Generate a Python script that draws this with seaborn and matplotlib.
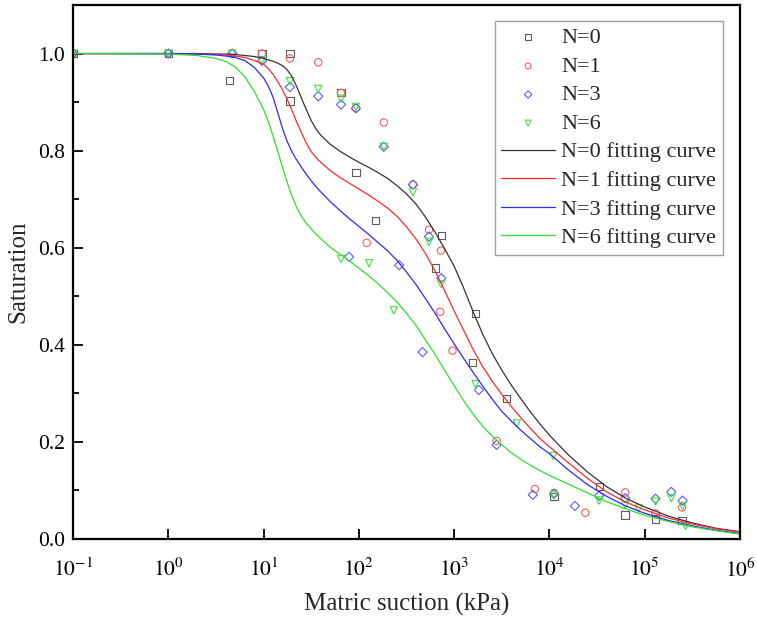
"""Soil-water characteristic curves after N freeze-thaw cycles."""

import matplotlib
matplotlib.use("Agg")
import matplotlib.pyplot as plt
import matplotlib.ticker as mticker
import numpy as np
import pandas as pd
import seaborn as sns

N0_X = [0.1, 1, 4.4, 9.6, 18.9, 18.9, 65, 93, 150, 634, 733, 1680, 1560, 3550,
        11200, 33300, 62400, 130000, 247000]
N0_Y = [1.0, 1.0, 0.945, 1.0, 1.0, 0.902, 0.92, 0.755, 0.656, 0.558, 0.625, 0.465,
        0.364, 0.289, 0.087, 0.108, 0.0495, 0.041, 0.0385]

N1_X = [0.1, 1, 4.7, 9.6, 18.9, 37.5, 65, 93, 183, 370, 121, 545, 727, 714, 963,
        2790, 7050, 11200, 23800, 62400, 130000, 247000]
N1_Y = [1.0, 1.0, 1.0, 1.0, 0.99, 0.982, 0.919, 0.888, 0.858, 0.730, 0.610, 0.637,
        0.594, 0.468, 0.388, 0.202, 0.103, 0.095, 0.054, 0.096, 0.053, 0.065]

N3_X = [0.1, 1, 4.7, 9.6, 18.9, 37.5, 65, 93, 183, 370, 79, 265, 545, 733, 467,
        1820, 2790, 6700, 11200, 18500, 33300, 62400, 130000, 190000, 250000]
N3_Y = [1.0, 1.0, 1.0, 0.985, 0.931, 0.912, 0.895, 0.887, 0.808, 0.730, 0.581,
        0.564, 0.623, 0.537, 0.385, 0.307, 0.194, 0.091, 0.093, 0.068, 0.089, 0.084,
        0.083, 0.097, 0.079]

N6_X = [0.1, 1, 4.7, 9.6, 18.9, 37.5, 65, 93, 183, 370, 65, 128, 233, 545, 733,
        1680, 4560, 10970, 11200, 33300, 62400, 86300, 130000, 190000, 250000, 268000]
N6_Y = [1.0, 1.0, 1.0, 0.985, 0.943, 0.927, 0.907, 0.890, 0.808, 0.714, 0.577,
        0.568, 0.471, 0.612, 0.525, 0.319, 0.238, 0.171, 0.090, 0.079, 0.070, 0.0625,
        0.077, 0.084, 0.068, 0.027]

# fitting curves at these log10(suction) positions
FIT_LOGX = [-1, 0, 0.3, 0.5, 0.6, 0.7, 0.8, 0.9, 1.0, 1.05, 1.1, 1.15, 1.2, 1.25,
            1.3, 1.35, 1.4, 1.45, 1.5, 1.55, 1.6, 1.7, 1.8, 1.9, 2.0, 2.1, 2.2, 2.3,
            2.4, 2.5, 2.6, 2.7, 2.8, 2.9, 3.0, 3.1, 3.2, 3.3, 3.4, 3.5, 3.6, 3.7, 3.8,
            3.9, 4.0, 4.2, 4.4, 4.6, 4.8, 5.0, 5.25, 5.5, 5.75, 6.0]
FIT_N0 = [1.0, 1.0, 1.0, 0.999, 0.999, 0.998, 0.996, 0.994, 0.99, 0.987, 0.984,
          0.98, 0.975, 0.966, 0.952, 0.931, 0.907, 0.884, 0.862, 0.845, 0.832, 0.813,
          0.799, 0.787, 0.776, 0.766, 0.755, 0.743, 0.728, 0.711, 0.690, 0.663, 0.632,
          0.598, 0.562, 0.517, 0.468, 0.422, 0.382, 0.348, 0.317, 0.289, 0.262, 0.237,
          0.214, 0.173, 0.138, 0.108, 0.084, 0.066, 0.047, 0.033, 0.022, 0.015]
FIT_N1 = [1.0, 1.0, 0.999, 0.998, 0.997, 0.995, 0.992, 0.986, 0.978, 0.969, 0.957,
          0.942, 0.925, 0.905, 0.882, 0.858, 0.836, 0.815, 0.798, 0.786, 0.776, 0.759,
          0.745, 0.733, 0.721, 0.709, 0.696, 0.682, 0.665, 0.643, 0.618, 0.588, 0.552,
          0.512, 0.47, 0.43, 0.39, 0.355, 0.325, 0.298, 0.273, 0.25, 0.228, 0.207,
          0.19, 0.157, 0.125, 0.097, 0.076, 0.06, 0.043, 0.031, 0.021, 0.014]
FIT_N3 = [1.0, 1.0, 0.999, 0.997, 0.995, 0.992, 0.986, 0.972, 0.95, 0.933, 0.91,
          0.878, 0.845, 0.818, 0.797, 0.78, 0.765, 0.751, 0.738, 0.726, 0.715, 0.695,
          0.677, 0.66, 0.644, 0.628, 0.611, 0.594, 0.574, 0.55, 0.524, 0.495, 0.465,
          0.433, 0.402, 0.372, 0.343, 0.315, 0.288, 0.263, 0.243, 0.224, 0.207, 0.19,
          0.176, 0.142, 0.112, 0.088, 0.068, 0.053, 0.038, 0.027, 0.018, 0.011]
FIT_N6 = [1.0, 0.999, 0.996, 0.99, 0.984, 0.973, 0.953, 0.923, 0.885, 0.86, 0.83,
          0.798, 0.765, 0.733, 0.705, 0.682, 0.664, 0.65, 0.639, 0.628, 0.619, 0.601,
          0.587, 0.573, 0.558, 0.543, 0.526, 0.508, 0.488, 0.465, 0.44, 0.41, 0.38,
          0.348, 0.316, 0.285, 0.257, 0.232, 0.212, 0.194, 0.178, 0.164, 0.152, 0.141,
          0.131, 0.113, 0.095, 0.077, 0.062, 0.049, 0.036, 0.025, 0.017, 0.01]

LABELS = ["N=0", "N=1", "N=3", "N=6"]
MARKERS = ["s", "o", "D", "v"]
MARKER_COLORS = ["#5c5c5c", "#ff5c5c", "#5c5cff", "#44e044"]
LINE_COLORS = ["#333333", "#ff2a2a", "#2a2aff", "#2ee02e"]
DECADES = [-1, 0, 1, 2, 3, 4, 5, 6]

sns.set_theme(style="ticks")
plt.rcParams["font.family"] = ["Liberation Serif", "DejaVu Serif"]
plt.rcParams["mathtext.fontset"] = "stix"

fig = plt.figure(figsize=(7.57, 6.26), dpi=100)
ax = fig.add_axes([0.0964, 0.139, 0.8811, 0.853])

points = [(N0_X, N0_Y), (N1_X, N1_Y), (N3_X, N3_Y), (N6_X, N6_Y)]
for (xs, ys), lab, mk, col in zip(points, LABELS, MARKERS, MARKER_COLORS):
    df = pd.DataFrame({"x": xs, "y": ys})
    sns.scatterplot(data=df, x="x", y="y", ax=ax, marker=mk, s=28 if mk != "D" else 22,
                    facecolors="none", edgecolor=col, linewidth=0.8, color=col, label=lab)

fit_x = np.power(10.0, FIT_LOGX)
fits = [FIT_N0, FIT_N1, FIT_N3, FIT_N6]
for ys, lab, col in zip(fits, LABELS, LINE_COLORS):
    df = pd.DataFrame({"x": fit_x, "y": ys})
    sns.lineplot(data=df, x="x", y="y", ax=ax, color=col, linewidth=0.9,
                 label=f"{lab} fitting curve", sort=False)

ax.set_xscale("log")
ax.set_xlim(0.1, 1e6)
ax.set_ylim(0, 1.1)
ax.xaxis.set_major_locator(mticker.FixedLocator([10.0 ** d for d in DECADES]))
ax.xaxis.set_minor_locator(mticker.NullLocator())
ax.xaxis.set_major_formatter(mticker.FixedFormatter([f"$10^{{{d}}}$" for d in DECADES]))
ax.yaxis.set_major_locator(mticker.MultipleLocator(0.2))
ax.yaxis.set_minor_locator(mticker.MultipleLocator(0.1))
ax.yaxis.set_major_formatter(mticker.FormatStrFormatter("%.1f"))

ax.tick_params(axis="both", which="major", direction="in", length=7, width=1.3,
               labelsize=15.5, color="black", labelcolor="black")
ax.tick_params(axis="x", which="major", pad=14)
ax.tick_params(axis="y", which="major", pad=6)
ax.tick_params(axis="y", which="minor", direction="in", length=4, width=1.3, color="black")
for sp in ax.spines.values():
    sp.set_linewidth(1.6)
    sp.set_color("black")

ax.set_xlabel("Matric suction (kPa)", fontsize=18, labelpad=8)
ax.set_ylabel("Saturation", fontsize=18, labelpad=6)

handles, labels = ax.get_legend_handles_labels()
leg = ax.legend(handles, labels, loc="upper right", bbox_to_anchor=(0.9745, 0.970),
                borderaxespad=0, fontsize=16, frameon=True, fancybox=False,
                edgecolor="#888888", handlelength=2.4, handletextpad=0.3,
                labelspacing=0.36, borderpad=0.3, markerscale=0.8)
leg.get_frame().set_linewidth(1.0)

fig.savefig("out.png", dpi=100)
